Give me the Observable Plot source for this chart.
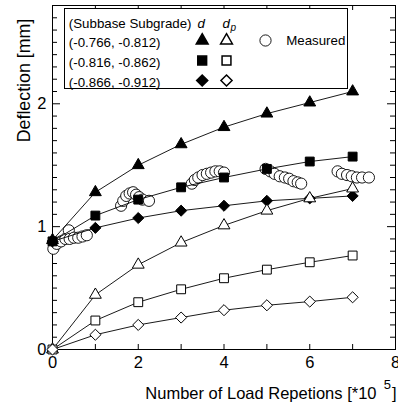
<!DOCTYPE html>
<html><head><meta charset="utf-8">
<script src="https://cdn.jsdelivr.net/npm/d3@7"></script>
<script src="https://cdn.jsdelivr.net/npm/@observablehq/plot@0.6"></script>
<style>body{margin:0;background:#fff}</style>
</head><body><div id="chart"></div>
<script>
// Load repetitions (x 10^5)
const loads = [0, 1, 2, 3, 4, 5, 6, 7];
// Total deflection d (filled) and permanent deflection dp (open)
const dTri  = [0.89, 1.28, 1.50, 1.67, 1.81, 1.92, 2.01, 2.10];
const dSq   = [0.88, 1.09, 1.22, 1.32, 1.40, 1.47, 1.53, 1.57];
const dDia  = [0.88, 0.99, 1.07, 1.13, 1.17, 1.21, 1.23, 1.25];
const dpTri = [0, 0.445, 0.69, 0.87, 1.01, 1.13, 1.23, 1.31];
const dpSq  = [0, 0.236, 0.385, 0.49, 0.58, 0.65, 0.71, 0.765];
const dpDia = [0, 0.12, 0.20, 0.26, 0.32, 0.36, 0.39, 0.425];
// Measured
const measuredX = [0.02,0.1,0.2,0.3,0.38,0.4,0.5,0.6,0.7,0.8, 1.6,1.65,1.72,1.8,1.88,1.95,2.02,2.1,2.25, 3.25,3.32,3.4,3.5,3.6,3.7,3.8,3.9,4.0, 4.97,5.08,5.18,5.3,5.42,5.52,5.62,5.72,5.8, 6.65,6.75,6.87,6.98,7.1,7.22,7.38];
const measuredY = [0.82,0.86,0.88,0.9,0.97,0.9,0.91,0.91,0.92,0.93, 1.17,1.21,1.25,1.27,1.28,1.26,1.24,1.22,1.21, 1.35,1.38,1.4,1.42,1.43,1.44,1.45,1.45,1.44, 1.47,1.45,1.43,1.41,1.4,1.39,1.37,1.36,1.35, 1.45,1.43,1.42,1.41,1.4,1.4,1.4];
// Ticks
const xTickLabels = [0, 2, 4, 6, 8];
const yTickLabels = [0, 1, 2];
const xMinor = [1, 2, 3, 4, 5, 6, 7];
const yMinor = [0.1,0.2,0.3,0.4,0.5,0.6,0.7,0.8,0.9,1.1,1.2,1.3,1.4,1.5,1.6,1.7,1.8,1.9,2.1,2.2,2.3,2.4,2.5,2.6,2.7];
const yMajor = [1, 2];
// Legend
const legendHeader = "(Subbase Subgrade)";
const legendRows = ["(-0.766, -0.812)", "(-0.816, -0.862)", "(-0.866, -0.912)"];
const legendSymbols = ["triangle", "square", "diamond2"];
const measuredLabel = "Measured";
const xLabel = "Number of Load Repetions [*10";
const xLabelSup = "5";
const xLabelEnd = "]";
const yLabel = "Deflection [mm]";

const symR = {triangle: 4.4, square: 5, diamond2: 5};
const series = [
  {y: dTri, symbol: "triangle", fill: "black"},
  {y: dSq, symbol: "square", fill: "black"},
  {y: dDia, symbol: "diamond2", fill: "black"},
  {y: dpTri, symbol: "triangle", fill: "white"},
  {y: dpSq, symbol: "square", fill: "white"},
  {y: dpDia, symbol: "diamond2", fill: "white"}
];
const seriesData = series.map(s => loads.map((x, i) => ({x, y: s.y[i]})));
const measured = measuredX.map((x, i) => ({x, y: measuredY[i]}));

const T = {frameAnchor: "top-left", textAnchor: "start", lineAnchor: "middle", fill: "black"};
const marks = [
  Plot.frame({stroke: "black"}),
  Plot.tickX(xMinor, {x: d => d, insetTop: 339, stroke: "black"}),
  Plot.tickX(xMinor, {x: d => d, insetBottom: 339, stroke: "black"}),
  Plot.tickY(yMinor, {y: d => d, insetRight: 338, stroke: "black"}),
  Plot.tickY(yMinor, {y: d => d, insetLeft: 338, stroke: "black"}),
  Plot.tickY(yMajor, {y: d => d, insetRight: 335, stroke: "black"}),
  Plot.tickY(yMajor, {y: d => d, insetLeft: 335, stroke: "black"}),
  Plot.dot(measured, {x: "x", y: "y", r: 5.6, fill: "white", stroke: "black", strokeWidth: 0.9}),
  ...seriesData.map(d => Plot.line(d, {x: "x", y: "y", stroke: "black", strokeWidth: 0.9})),
  ...seriesData.map((d, k) => Plot.dot(d, {x: "x", y: "y", symbol: series[k].symbol, r: symR[series[k].symbol], fill: series[k].fill, stroke: "black", strokeWidth: 1})),
  // axis labels
  Plot.text([yLabel], {...T, text: d => d, rotate: -90, textAnchor: "middle", dx: -28, dy: 75, fontSize: 17.8}),
  Plot.text([xLabel], {...T, text: d => d, frameAnchor: "bottom-right", textAnchor: "end", dx: -19, dy: 44, fontSize: 16.5}),
  Plot.text([xLabelSup], {...T, text: d => d, frameAnchor: "bottom-right", textAnchor: "end", dx: -4.5, dy: 35, fontSize: 13}),
  Plot.text([xLabelEnd], {...T, text: d => d, frameAnchor: "bottom-right", textAnchor: "end", dx: 1, dy: 44, fontSize: 16.5}),
  // legend
  Plot.frame({insetLeft: 12, insetTop: 3, insetRight: 48, insetBottom: 261, fill: "white", stroke: "black"}),
  Plot.text([legendHeader], {...T, text: d => d, dx: 16.3, dy: 18, fontSize: 13.3}),
  Plot.text(["d"], {...T, text: d => d, dx: 145, dy: 18, fontSize: 13.3, fontStyle: "italic"}),
  Plot.text(["d"], {...T, text: d => d, dx: 170, dy: 18, fontSize: 13.3, fontStyle: "italic"}),
  Plot.text(["p"], {...T, text: d => d, dx: 178, dy: 22, fontSize: 10, fontStyle: "italic"}),
  ...legendRows.map((t, i) => Plot.text([t], {...T, text: d => d, dx: 16.3, dy: 37 + i * 20, fontSize: 13.3})),
  ...legendSymbols.map((s, i) => Plot.dot([s], {frameAnchor: "top-left", dx: 149.7, dy: 35 + i * 20, symbol: s, r: symR[s], fill: "black", stroke: "black"})),
  ...legendSymbols.map((s, i) => Plot.dot([s], {frameAnchor: "top-left", dx: 174, dy: 35 + i * 20, symbol: s, r: symR[s], fill: "white", stroke: "black"})),
  Plot.dot([measuredLabel], {frameAnchor: "top-left", dx: 213, dy: 35, r: 5.6, fill: "white", stroke: "black", strokeWidth: 0.9}),
  Plot.text([measuredLabel], {...T, text: d => d, dx: 233.7, dy: 35, fontSize: 13.3})
];

const chart = Plot.plot({
  width: 398, height: 406,
  marginLeft: 52, marginRight: 3, marginTop: 5, marginBottom: 57,
  style: {fontFamily: "'Liberation Sans', Arial, sans-serif", fontSize: "16.5px", background: "white", color: "black"},
  x: {domain: [0, 8], ticks: xTickLabels, tickSize: 0, tickPadding: 7, label: null, tickFormat: d3.format("d")},
  y: {domain: [0, 2.8], ticks: yTickLabels, tickSize: 0, tickPadding: 6, label: null, tickFormat: d3.format("d")},
  marks
});
document.getElementById("chart").appendChild(chart);
</script>
</body></html>
